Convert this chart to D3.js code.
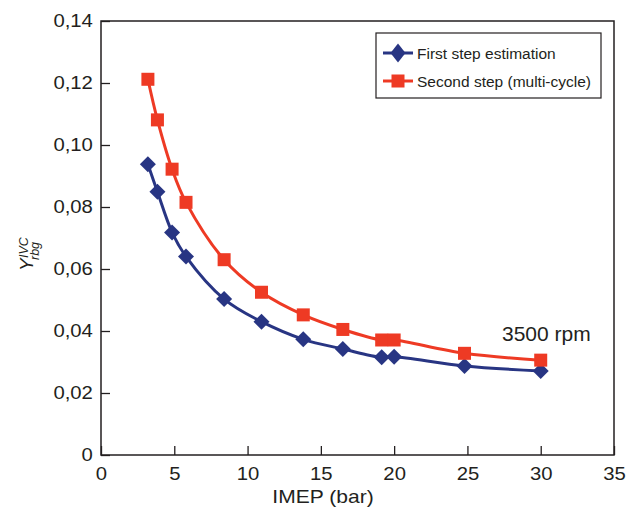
<!DOCTYPE html>
<html>
<head>
<meta charset="utf-8">
<script src="https://cdn.jsdelivr.net/npm/d3@7"></script>
<style>
  body { margin: 0; background: #fff; }
  text { font-family: "Liberation Sans", Arial, sans-serif; fill: #231f20; }
</style>
</head>
<body>
<script>
var imep = [3.2, 3.85, 4.85, 5.8, 8.4, 10.95, 13.8, 16.5, 19.15, 20.0, 24.8, 30.0];
var firstStep = [0.0938, 0.0849, 0.0718, 0.0640, 0.0503, 0.0430, 0.0373, 0.0342, 0.0315, 0.0317, 0.0287, 0.0271];
var secondStep = [0.1212, 0.1081, 0.0922, 0.0815, 0.0630, 0.0525, 0.0452, 0.0405, 0.0371, 0.0371, 0.0328, 0.0306];
var seriesNames = ["First step estimation", "Second step (multi-cycle)"];
var xTicks = [0, 5, 10, 15, 20, 25, 30, 35];
var yTicks = [0, 0.02, 0.04, 0.06, 0.08, 0.10, 0.12, 0.14];

var width = 636,
  height = 507,
  margin = { left: 101, top: 21, right: 22, bottom: 52 },
  blue = "#283583",
  red = "#ee3a24",
  ink = "#231f20";

var svg = d3.select("body").append("svg")
  .attr("width", width)
  .attr("height", height);

var x = d3.scaleLinear().domain([0, 35]).range([margin.left, width - margin.right]);
var y = d3.scaleLinear().domain([0, 0.14]).range([height - margin.bottom, margin.top]);

// frame
svg.append("rect")
  .attr("x", x(0)).attr("y", y(0.14))
  .attr("width", x(35) - x(0)).attr("height", y(0) - y(0.14))
  .attr("fill", "none").attr("stroke", ink).attr("stroke-width", 1.5);

var xAxis = svg.append("g")
  .attr("transform", "translate(0," + y(0) + ")")
  .call(d3.axisBottom(x).tickValues(xTicks).tickSize(-9).tickPadding(13).tickFormat(d3.format("d")));

var yAxis = svg.append("g")
  .attr("transform", "translate(" + x(0) + ",0)")
  .call(d3.axisLeft(y).tickValues(yTicks).tickSize(-9).tickPadding(7)
    .tickFormat(function (d) { return d === 0 ? "0" : d3.format(".2f")(d).replace(".", ","); }));

[xAxis, yAxis].forEach(function (a) {
  a.select(".domain").remove();
  a.selectAll(".tick line").attr("stroke", ink).attr("stroke-width", 1.3);
  a.selectAll(".tick text").attr("font-size", 17.5).attr("fill", ink)
    .attr("transform", "scale(1.16,1)")
    .style("font-family", '"Liberation Sans", Arial, sans-serif');
});
xAxis.selectAll(".tick text").attr("dy", "0.71em");

// axis titles
svg.append("text")
  .attr("transform", "translate(323,503) scale(1.17,1)")
  .attr("text-anchor", "middle")
  .attr("font-size", 18)
  .text("IMEP (bar)");

var ylab = svg.append("text")
  .attr("transform", "translate(33,271) rotate(-90)")
  .attr("font-style", "italic");
ylab.append("tspan").attr("x", 0).attr("y", 0).attr("font-size", 19).text("Y");
ylab.append("tspan").attr("x", 13).attr("y", -5).attr("font-size", 12.5).text("IVC");
ylab.append("tspan").attr("x", 11).attr("y", 6).attr("font-size", 12.5).text("rbg");

var line = d3.line()
  .curve(d3.curveCatmullRom.alpha(0.5))
  .x(function (d) { return x(d[0]); })
  .y(function (d) { return y(d[1]); });

var series = [
  { name: seriesNames[0], color: blue, shape: "diamond", values: imep.map(function (v, i) { return [v, firstStep[i]]; }) },
  { name: seriesNames[1], color: red, shape: "square", values: imep.map(function (v, i) { return [v, secondStep[i]]; }) }
];

function marker(g, shape, color, big) {
  if (shape === "square") {
    g.append("rect").attr("x", -6.5).attr("y", -6.5).attr("width", 13).attr("height", 13).attr("fill", color);
  } else if (big) {
    g.append("path").attr("d", "M0,-9.5L7.5,0L0,9.5L-7.5,0Z").attr("fill", color);
  } else {
    g.append("path").attr("d", "M0,-8L8,0L0,8L-8,0Z").attr("fill", color);
  }
}

series.forEach(function (s) {
  svg.append("path")
    .datum(s.values)
    .attr("d", line)
    .attr("fill", "none")
    .attr("stroke", s.color)
    .attr("stroke-width", 3);
});
series.forEach(function (s) {
  svg.selectAll(null)
    .data(s.values)
    .enter().append("g")
    .attr("transform", function (d) { return "translate(" + x(d[0]) + "," + y(d[1]) + ")"; })
    .each(function () { marker(d3.select(this), s.shape, s.color, false); });
});

// legend
var legend = svg.append("g");
legend.append("rect")
  .attr("x", 376).attr("y", 33).attr("width", 225).attr("height", 65)
  .attr("fill", "#fff").attr("stroke", ink).attr("stroke-width", 1.2);
series.forEach(function (s, i) {
  var ly = 53 + i * 28;
  legend.append("line")
    .attr("x1", 383).attr("x2", 413).attr("y1", ly).attr("y2", ly)
    .attr("stroke", s.color).attr("stroke-width", 3);
  var m = legend.append("g").attr("transform", "translate(398," + ly + ")");
  marker(m, s.shape, s.color, true);
  legend.append("text")
    .attr("x", 417).attr("y", ly + 5.5)
    .attr("font-size", 15.5)
    .text(s.name);
});

svg.append("text")
  .attr("x", 502).attr("y", 341)
  .attr("font-size", 21)
  .text("3500 rpm");
</script>
</body>
</html>
